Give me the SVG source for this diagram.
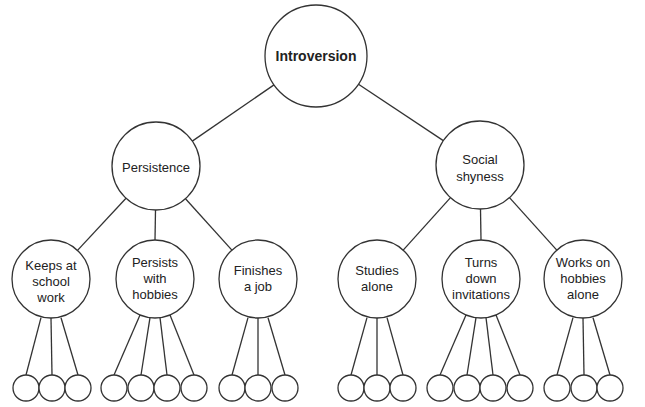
<svg xmlns="http://www.w3.org/2000/svg" width="645" height="407" viewBox="0 0 645 407">
<style>
.n{fill:#fff;stroke:#333;stroke-width:1.3}
.e line{stroke:#333;stroke-width:1.3}
text{font-family:"Liberation Sans",Arial,sans-serif;font-size:13px;fill:#222;text-anchor:middle}
.b{font-weight:bold;font-size:14px}
</style>
<rect width="645" height="407" fill="#fff"/>
<g id="connectors" class="e">
<line x1="274" y1="84.9" x2="192.3" y2="141.1"/>
<line x1="358.5" y1="84.2" x2="443.3" y2="140.6"/>
<line x1="126" y1="198.2" x2="77.5" y2="250.4"/>
<line x1="155.5" y1="210" x2="155" y2="240"/>
<line x1="185.5" y1="198.7" x2="231.9" y2="250.1"/>
<line x1="450.5" y1="197.6" x2="403.2" y2="250.1"/>
<line x1="480.5" y1="209" x2="481" y2="240"/>
<line x1="509.5" y1="197.6" x2="556.8" y2="250.1"/>
<line x1="41" y1="317.7" x2="26" y2="375"/>
<line x1="51" y1="318" x2="52" y2="375"/>
<line x1="61" y1="317.7" x2="78" y2="375"/>
<line x1="140" y1="315" x2="114" y2="375"/>
<line x1="150" y1="317.7" x2="141" y2="375"/>
<line x1="160" y1="317.7" x2="167" y2="375"/>
<line x1="170" y1="315" x2="194" y2="375"/>
<line x1="248" y1="317.7" x2="232" y2="375"/>
<line x1="258" y1="318" x2="258" y2="375"/>
<line x1="268" y1="317.7" x2="285" y2="375"/>
<line x1="367" y1="317.7" x2="351" y2="375"/>
<line x1="377" y1="318" x2="377" y2="375"/>
<line x1="387" y1="317.7" x2="403" y2="375"/>
<line x1="466" y1="315" x2="440" y2="375"/>
<line x1="476" y1="317.7" x2="467" y2="375"/>
<line x1="486" y1="317.7" x2="493" y2="375"/>
<line x1="496" y1="315" x2="520" y2="375"/>
<line x1="573" y1="317.7" x2="557" y2="375"/>
<line x1="583" y1="318" x2="584" y2="375"/>
<line x1="593" y1="317.7" x2="610" y2="375"/>
</g>
<g id="introversion"><circle class="n" cx="316" cy="56" r="51"/><text class="b" x="316" y="61">Introversion</text></g>
<g id="persistence"><circle class="n" cx="156" cy="166" r="44"/><text x="156" y="172">Persistence</text></g>
<g id="social-shyness"><circle class="n" cx="480" cy="165" r="44"/><text x="480" y="164">Social</text><text x="480" y="181">shyness</text></g>
<g id="keeps"><circle class="n" cx="51" cy="279" r="39"/><text x="51" y="270">Keeps at</text><text x="51" y="286">school</text><text x="51" y="302">work</text></g>
<g id="persists"><circle class="n" cx="155" cy="279" r="39"/><text x="155" y="267">Persists</text><text x="155" y="283">with</text><text x="155" y="299">hobbies</text></g>
<g id="finishes"><circle class="n" cx="258" cy="279" r="39"/><text x="258" y="275">Finishes</text><text x="258" y="291">a job</text></g>
<g id="studies"><circle class="n" cx="377" cy="279" r="39"/><text x="377" y="275">Studies</text><text x="377" y="291">alone</text></g>
<g id="turns"><circle class="n" cx="481" cy="279" r="39"/><text x="481" y="267">Turns</text><text x="481" y="283">down</text><text x="481" y="299">invitations</text></g>
<g id="works"><circle class="n" cx="583" cy="279" r="39"/><text x="583" y="267">Works on</text><text x="583" y="283">hobbies</text><text x="583" y="299">alone</text></g>
<g id="leaves">
<circle class="n" cx="26" cy="388" r="13"/><circle class="n" cx="52" cy="388" r="13"/><circle class="n" cx="78" cy="388" r="13"/>
<circle class="n" cx="114" cy="388" r="13"/><circle class="n" cx="141" cy="388" r="13"/><circle class="n" cx="167" cy="388" r="13"/><circle class="n" cx="194" cy="388" r="13"/>
<circle class="n" cx="232" cy="388" r="13"/><circle class="n" cx="258" cy="388" r="13"/><circle class="n" cx="285" cy="388" r="13"/>
<circle class="n" cx="351" cy="388" r="13"/><circle class="n" cx="377" cy="388" r="13"/><circle class="n" cx="403" cy="388" r="13"/>
<circle class="n" cx="440" cy="388" r="13"/><circle class="n" cx="467" cy="388" r="13"/><circle class="n" cx="493" cy="388" r="13"/><circle class="n" cx="520" cy="388" r="13"/>
<circle class="n" cx="557" cy="388" r="13"/><circle class="n" cx="584" cy="388" r="13"/><circle class="n" cx="610" cy="388" r="13"/>
</g>
</svg>
